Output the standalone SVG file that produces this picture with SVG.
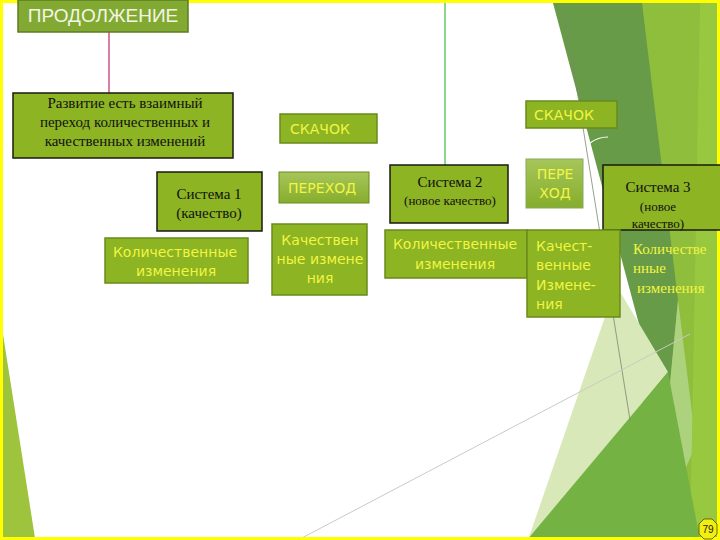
<svg xmlns="http://www.w3.org/2000/svg" width="720" height="540" viewBox="0 0 720 540">
<defs>
<style>
.box{fill:#8cb423;stroke:#6a8a1c;stroke-width:1.5}
.bbox{fill:#8cb423;stroke:#1a1a10;stroke-width:1.5}
.ser{font-family:"Liberation Serif","Times New Roman",serif;fill:#111;text-anchor:middle}
.yl{font-family:"DejaVu Sans","Verdana",sans-serif;fill:#f2f542;font-size:14px}
.ys{font-family:"Liberation Serif",serif;fill:#f2f542;font-size:15px}
.conn{fill:none;stroke-width:1.2}
</style>
<linearGradient id="gl" x1="0" y1="0" x2="0" y2="1">
<stop offset="0" stop-color="#a6c65a"/><stop offset="1" stop-color="#86ad2c"/>
</linearGradient>
</defs>
<rect width="720" height="540" fill="#ffffff"/>
<g id="background">
<polygon points="637,3 720,3 720,540 645,540" fill="#8fbd3c"/>
<polygon points="553,3 642,3 678,300 666,425" fill="#679b47"/>
<polygon points="678,300 696,445 658,530 666,425" fill="#b3d68a" opacity="0.85"/>
<polygon points="700,3 720,3 720,540 690,540" fill="#98c83f"/>
<polygon points="616,285 528,540 668,372" fill="#d8e8b8"/>
<polygon points="527,540 668,372 700,540" fill="#74b244"/>
<polygon points="2,328 2,538 35,538" fill="#9dc43c"/>
<line x1="563" y1="3" x2="630" y2="420" stroke="#7a8a70" stroke-width="0.8"/>
<line x1="298" y1="540" x2="690" y2="334" stroke="#c8ccc0" stroke-width="1"/>
<rect x="1.5" y="1.5" width="717" height="537" fill="none" stroke="#ffff00" stroke-width="3"/>
</g>
<g id="connectors">
<line class="conn" x1="109" y1="32" x2="109" y2="93" stroke="#c02a6a"/>
<line class="conn" x1="445" y1="3" x2="445" y2="165" stroke="#3cc03c"/>
<path class="conn" d="M372 147 Q375 140 379 138" stroke="#ffffff"/>
<path class="conn" d="M590 143 Q598 137 608 137" stroke="#ffffff"/>
<path class="conn" d="M500 272 Q515 271 527 265" stroke="#ffffff"/>
<line class="conn" x1="238" y1="257" x2="246" y2="257" stroke="#ffffff"/>
</g>
<g id="prodolzhenie">
<rect x="18" y="0" width="170" height="32" fill="#82aa32" stroke="#5d7d20" stroke-width="1.5"/>
<text x="103" y="22" font-family="Liberation Sans,Arial,sans-serif" font-size="19" fill="#f3f6e4" text-anchor="middle">ПРОДОЛЖЕНИЕ</text>
</g>
<g id="razvitie">
<rect class="bbox" x="13" y="93" width="220" height="65"/>
<text class="ser" font-size="15"><tspan x="125" y="108">Развитие есть взаимный</tspan><tspan x="125" y="127">переход количественных и</tspan><tspan x="125" y="146">качественных изменений</tspan></text>
</g>
<g id="sistema1">
<rect class="bbox" x="157" y="172" width="105" height="59"/>
<text class="ser" font-size="15"><tspan x="209" y="199">Система 1</tspan><tspan x="209" y="218">(качество)</tspan></text>
</g>
<g id="kolich1">
<rect class="box" x="105" y="238" width="143" height="45"/>
<text class="yl" text-anchor="middle"><tspan x="175" y="257">Количественные</tspan><tspan x="176" y="276">изменения</tspan></text>
</g>
<g id="skachok1">
<rect class="box" x="280" y="114" width="97" height="29"/>
<text class="yl" x="290" y="134">СКАЧОК</text>
</g>
<g id="perehod1">
<rect x="279" y="172" width="90" height="31" fill="url(#gl)" stroke="#6a8a1c" stroke-width="1"/>
<text class="yl" x="288" y="193">ПЕРЕХОД</text>
</g>
<g id="kachestv1">
<rect class="box" x="272" y="224" width="95" height="71"/>
<text class="yl" text-anchor="middle"><tspan x="320" y="245">Качествен</tspan><tspan x="320" y="264">ные измене</tspan><tspan x="320" y="283">ния</tspan></text>
</g>
<g id="sistema2">
<rect class="bbox" x="390" y="165" width="118" height="58"/>
<text class="ser"><tspan x="450" y="187" font-size="15">Система 2</tspan><tspan x="450" y="205" font-size="13">(новое качество)</tspan></text>
</g>
<g id="kolich2">
<rect class="box" x="385" y="230" width="142" height="48"/>
<text class="yl" text-anchor="middle"><tspan x="455" y="249">Количественные</tspan><tspan x="455" y="269">изменения</tspan></text>
</g>
<g id="skachok2">
<rect class="box" x="526" y="101" width="91" height="27"/>
<text class="yl" x="534" y="120">СКАЧОК</text>
</g>
<g id="perehod2">
<rect x="526" y="159" width="57" height="49" fill="url(#gl)" stroke="#8aa860" stroke-width="1"/>
<text class="yl" text-anchor="middle"><tspan x="555" y="179">ПЕРЕ</tspan><tspan x="555" y="198">ХОД</tspan></text>
</g>
<g id="sistema3">
<rect class="bbox" x="603" y="165" width="118" height="65"/>
<text class="ser"><tspan x="658" y="192" font-size="15">Система 3</tspan><tspan x="658" y="211" font-size="13">(новое</tspan><tspan x="658" y="228" font-size="13">качество)</tspan></text>
</g>
<g id="kachestv2">
<rect class="box" x="527" y="230" width="93" height="87"/>
<text class="yl" font-size="13"><tspan x="536" y="251">Качест-</tspan><tspan x="536" y="270">венные</tspan><tspan x="536" y="290">Измене-</tspan><tspan x="536" y="309">ния</tspan></text>
</g>
<g id="kolich3">
<text class="ys"><tspan x="633" y="254">Количестве</tspan><tspan x="633" y="273">нные</tspan><tspan x="637" y="293">изменения</tspan></text>
</g>
<g id="page">
<polygon points="704,519 712,519 717,524 717,534 712,539 704,539 699,534 699,524" fill="#f2ee10" stroke="#4a4a10" stroke-width="0.8"/>
<text x="708" y="533" font-family="Liberation Sans,Arial,sans-serif" font-size="10" fill="#222" text-anchor="middle">79</text>
</g>
</svg>
